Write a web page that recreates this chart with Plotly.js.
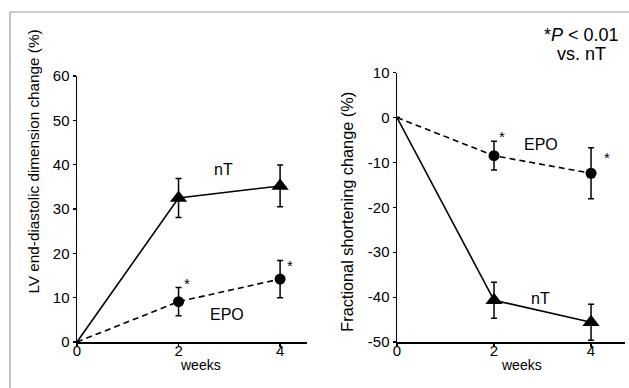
<!DOCTYPE html>
<html>
<head>
<meta charset="utf-8">
<script src="https://cdn.plot.ly/plotly-3.0.1.min.js"></script>
<style>html,body{margin:0;padding:0;background:#fff;}#chart{width:629px;height:388px;}</style>
</head>
<body>
<div id="chart"></div>
<script>
// ---- data ----
const weeks = [0, 2, 4];
const tickWeeks = [0, 2, 4];
const lvNT = [0, 32.5, 35.2];
const lvNTerr = [null, 4.4, 4.7];
const lvEPO = [0, 9.1, 14.2];
const lvEPOerr = [null, 3.2, 4.2];
const fsEPO = [0, -8.5, -12.4];
const fsEPOerr = [null, 3.2, 5.7];
const fsNT = [0, -40.7, -45.6];
const fsNTerr = [null, 4.0, 4.0];
const lvTicks = [0, 10, 20, 30, 40, 50, 60];
const fsTicks = [-50, -40, -30, -20, -10, 0, 10];

const W = 629, H = 388;
const px = v => v / W;
const py = v => 1 - v / H;

function errBar(arr) {
  return {type: 'data', array: arr, visible: true, color: '#000', thickness: 1.5, width: 3};
}
const mSize = s => [0, s, s];
function mk(sym, s) {
  return {symbol: sym, size: mSize(s), color: '#000', opacity: 1, line: {width: 0, color: '#000'}};
}

const traces = [
  {x: weeks, y: lvNT, xaxis: 'x', yaxis: 'y', mode: 'lines+markers',
   line: {color: '#000', width: 1.6}, marker: mk('triangle-up', 15),
   error_y: errBar(lvNTerr), name: 'nT'},
  {x: weeks, y: lvEPO, xaxis: 'x', yaxis: 'y', mode: 'lines+markers',
   line: {color: '#000', width: 1.6, dash: '6px,4px'}, marker: mk('circle', 11),
   error_y: errBar(lvEPOerr), name: 'EPO'},
  {x: weeks, y: fsEPO, xaxis: 'x2', yaxis: 'y2', mode: 'lines+markers',
   line: {color: '#000', width: 1.6, dash: '6px,4px'}, marker: mk('circle', 11),
   error_y: errBar(fsEPOerr), name: 'EPO'},
  {x: weeks, y: fsNT, xaxis: 'x2', yaxis: 'y2', mode: 'lines+markers',
   line: {color: '#000', width: 1.6}, marker: mk('triangle-up', 15),
   error_y: errBar(fsNTerr), name: 'nT'}
];

const FAM = 'Arial, Liberation Sans, sans-serif';
const tickFont = {family: FAM, size: 15, color: '#000'};
function xAxis(domain, range, anchor) {
  return {domain: domain, range: range, anchor: anchor, tickmode: 'array', tickvals: tickWeeks,
    ticktext: tickWeeks.map(String), showgrid: false, zeroline: false, showline: true,
    linecolor: '#000', linewidth: 1.5, ticks: 'outside', ticklen: 3, tickwidth: 1.2,
    tickcolor: '#000', tickfont: tickFont, ticklabelstandoff: -9, automargin: false, fixedrange: true};
}
function yAxis(domain, range, ticks, anchor) {
  return {domain: domain, range: range, anchor: anchor, tickmode: 'array', tickvals: ticks,
    ticktext: ticks.map(String), showgrid: false, zeroline: false, showline: true,
    linecolor: '#000', linewidth: 1.5, ticks: 'outside', ticklen: 3, tickwidth: 1.2,
    tickcolor: '#000', tickfont: tickFont, automargin: false, fixedrange: true};
}

const aFont = {family: FAM, size: 16, color: '#000'};
const sFont = {family: FAM, size: 15, color: '#000'};
function lab(text, x, y, xr, yr, font, yshift, angle) {
  return {text: text, x: x, y: y, xref: xr, yref: yr, showarrow: false, font: font,
    xanchor: 'center', yanchor: 'middle', yshift: yshift || 0, textangle: angle || 0};
}

const layout = {
  width: W, height: H, margin: {l: 0, r: 0, t: 0, b: 0},
  paper_bgcolor: '#fff', plot_bgcolor: 'rgba(0,0,0,0)', showlegend: false,
  xaxis: xAxis([px(77), px(307)], [0, 4.53], 'y'),
  yaxis: yAxis([1 - 342 / H, 1 - 76 / H], [0, 60], lvTicks, 'x'),
  xaxis2: xAxis([px(397), px(625)], [0, 4.70], 'y2'),
  yaxis2: yAxis([1 - 342 / H, 1 - 72.7 / H], [-50, 10], fsTicks, 'x2'),
  shapes: [
    {type: 'line', xref: 'paper', yref: 'paper', x0: px(10), x1: 1.05, y0: py(12), y1: py(12),
     line: {color: '#9a9a9a', width: 1.2}},
    {type: 'line', xref: 'paper', yref: 'paper', x0: px(10), x1: px(10), y0: -0.05, y1: py(12),
     line: {color: '#9a9a9a', width: 1.2}}
  ],
  annotations: [
    lab('LV end-diastolic dimension change (%)', px(33), py(161.5), 'paper', 'paper',
        {family: FAM, size: 15.3, color: '#000'}, 0, -90),
    lab('Fractional shortening change (%)', px(347), py(211.7), 'paper', 'paper',
        {family: FAM, size: 16.3, color: '#000'}, 0, -90),
    lab('weeks', px(200), py(365), 'paper', 'paper', {family: FAM, size: 14, color: '#000'}),
    lab('weeks', px(521), py(365), 'paper', 'paper', {family: FAM, size: 14, color: '#000'}),
    lab('*<i>P</i> < 0.01', px(581), py(34.5), 'paper', 'paper', {family: FAM, size: 18, color: '#000'}),
    lab('vs. nT', px(581), py(54.5), 'paper', 'paper', {family: FAM, size: 18, color: '#000'}),
    lab('nT', 2.88, 39, 'x', 'y', aFont),
    lab('EPO', 2.95, 6.3, 'x', 'y', aFont),
    lab('*', 2.16, 14.0, 'x', 'y', sFont, -4),
    lab('*', 4.2, 18.1, 'x', 'y', sFont, -4),
    lab('EPO', 2.97, -6.0, 'x2', 'y2', aFont),
    lab('nT', 2.95, -40.3, 'x2', 'y2', aFont),
    lab('*', 2.16, -3.4, 'x2', 'y2', sFont, -4),
    lab('*', 4.33, -7.9, 'x2', 'y2', sFont, -4)
  ]
};

Plotly.newPlot('chart', traces, layout, {staticPlot: true, displayModeBar: false});
</script>
</body>
</html>
